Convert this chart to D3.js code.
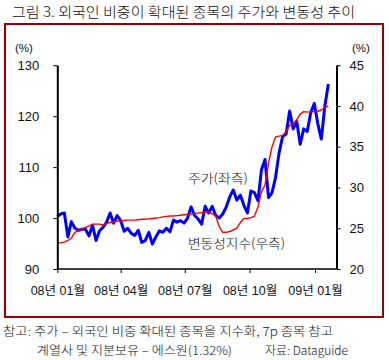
<!DOCTYPE html>
<html><head><meta charset="utf-8">
<script src="https://cdn.jsdelivr.net/npm/d3@7"></script>
<style>
html,body{margin:0;padding:0;background:#fff;}
svg{display:block;}
text{font-family:"Liberation Sans","Noto Sans CJK KR",sans-serif;fill:#111;}
.kr{font-family:"Noto Sans CJK KR","Liberation Sans",sans-serif;font-weight:300;}
</style></head>
<body>
<script>
// ---- data (sampled every 5 days from 2008-01-02) ----
const startDate = "2008-01-02";
const stepDays = 5;
const priceIndex = [100.3,100.8,101.0,96.3,99.3,98.0,97.6,97.8,97.8,96.5,
  98.6,95.6,97.5,98.2,99.2,101.0,99.0,100.5,99.5,97.4,
  98.0,97.0,96.6,97.6,95.2,95.6,97.2,94.9,96.3,97.5,
  97.2,98.0,97.3,99.6,99.2,99.5,99.0,100.0,102.2,100.5,
  99.8,98.8,102.3,101.0,102.3,100.5,100.0,100.8,102.2,104.2,
  105.5,103.5,104.5,102.5,101.0,105.3,105.0,103.4,109.5,111.5,
  104.0,105.0,108.0,112.8,116.0,116.5,121.0,117.5,119.0,114.5,
  117.5,117.0,120.7,122.5,118.5,115.5,122.0,126.3];
const volIndex = [23.2,23.2,23.3,23.5,23.8,24.5,24.7,24.9,25.1,25.3,
  25.5,25.5,25.5,25.4,25.6,25.7,25.8,25.85,25.9,25.95,
  26.0,26.0,26.0,26.05,26.1,26.1,26.15,26.2,26.25,26.3,
  26.4,26.45,26.5,26.5,26.55,26.6,26.65,26.7,26.75,26.8,
  26.85,26.9,26.95,27.0,26.8,26.5,25.2,24.5,24.5,24.6,
  24.8,25.0,25.7,26.2,26.2,26.3,26.5,27.6,29.5,30.3,
  33.0,35.0,36.2,36.3,36.4,36.8,37.6,37.8,38.3,39.0,
  39.3,39.25,39.3,39.3,39.35,39.5,39.8,40.0];
const xTickDates = ["2008-01-02","2008-04-01","2008-07-01","2008-10-01","2009-01-02"];
const xTickLabels = ["08년 01월","08년 04월","08년 07월","08년 10월","09년 01월"];
const leftTicks = [90,100,110,120,130];
const rightTicks = [20,25,30,35,40,45];
const titleText = "그림 3. 외국인 비중이 확대된 종목의 주가와 변동성 추이";
const seriesLabels = ["주가(좌측)","변동성지수(우측)"];
const noteLines = ["참고: 주가 – 외국인 비중 확대된 종목을 지수화, 7p 종목 참고",
  "계열사 및 지분보유 – 에스원(1.32%)"];
const sourceText = "자료: Dataguide";

const W = 389, H = 360;
const parse = d3.utcParse("%Y-%m-%d");
const t0 = parse(startDate);
const dates = priceIndex.map((_, i) => d3.utcDay.offset(t0, i * stepDays));

const svg = d3.select("body").append("svg").attr("width", W).attr("height", H);

// title
svg.append("text").attr("class","kr").attr("x", 12).attr("y", 16.5)
  .attr("font-size", 14).attr("textLength", 343).attr("lengthAdjust","spacingAndGlyphs")
  .text(titleText);

// frame
svg.append("rect").attr("x", 5).attr("y", 24).attr("width", 378).attr("height", 293)
  .attr("fill","none").attr("stroke","#990000").attr("stroke-width", 2);

const plot = {l: 57.3, r: 336.5, t: 65.2, b: 269};
const x = d3.scaleUtc().domain([parse(xTickDates[0]), parse(xTickDates[4])]).range([plot.l, 315]);
const yL = d3.scaleLinear().domain([90,130]).range([plot.b, plot.t]);
const yR = d3.scaleLinear().domain([20,45]).range([plot.b, plot.t]);

// series
const lineL = d3.line().x((d,i) => x(dates[i])).y(d => yL(d));
const lineR = d3.line().x((d,i) => x(dates[i])).y(d => yR(d));
svg.append("path").datum(priceIndex).attr("d", lineL).attr("fill","none")
  .attr("stroke","#0000ff").attr("stroke-width", 3).attr("stroke-linejoin","round");
svg.append("path").datum(volIndex).attr("d", lineR).attr("fill","none")
  .attr("stroke","#ff0000").attr("stroke-width", 1.4).attr("stroke-linejoin","round");

// axes
const gL = svg.append("g").attr("transform", `translate(${plot.l},0)`)
  .call(d3.axisLeft(yL).tickValues(leftTicks).tickSize(4).tickSizeOuter(0).tickPadding(14));
const gR = svg.append("g").attr("transform", `translate(${plot.r},0)`)
  .call(d3.axisRight(yR).tickValues(rightTicks).tickSize(4).tickSizeOuter(0).tickPadding(9));
const gB = svg.append("g").attr("transform", `translate(0,${plot.b})`)
  .call(d3.axisBottom(x).tickValues(xTickDates.map(parse)).tickFormat((d,i) => xTickLabels[i])
    .tickSize(4).tickSizeOuter(0).tickPadding(13));
gB.select(".domain").attr("d", `M${plot.l},0H${plot.r}`);
[gL, gR].forEach(g => g.select(".domain").attr("stroke-width", 2));
gB.select(".domain").attr("stroke-width", 1.6);
[gL, gR, gB].forEach(g => {
  g.selectAll("text").attr("font-size", 13).attr("fill","#111")
    .style("font-family", '"Liberation Sans","Noto Sans CJK KR",sans-serif');
});
gB.selectAll("text").attr("font-size", 12.5);

// unit labels
svg.append("text").attr("x", 15).attr("y", 52).attr("font-size", 11.5).text("(%)");
svg.append("text").attr("x", 352).attr("y", 52).attr("font-size", 11.5).text("(%)");

// series labels
svg.append("text").attr("class","kr").attr("x", 188).attr("y", 182.5).attr("font-size", 13)
  .attr("textLength", 60).attr("lengthAdjust","spacingAndGlyphs").text(seriesLabels[0]);
svg.append("text").attr("class","kr").attr("x", 188).attr("y", 247.5).attr("font-size", 13)
  .attr("textLength", 97).attr("lengthAdjust","spacingAndGlyphs").text(seriesLabels[1]);

// notes
svg.append("text").attr("class","kr").attr("x", 3).attr("y", 336).attr("font-size", 12)
  .attr("fill","#333").attr("textLength", 330).attr("lengthAdjust","spacingAndGlyphs").text(noteLines[0]);
svg.append("text").attr("class","kr").attr("x", 37).attr("y", 355).attr("font-size", 12)
  .attr("fill","#333").attr("textLength", 195).attr("lengthAdjust","spacingAndGlyphs").text(noteLines[1]);
svg.append("text").attr("class","kr").attr("x", 265).attr("y", 355).attr("font-size", 12)
  .attr("fill","#333").attr("textLength", 83).attr("lengthAdjust","spacingAndGlyphs").text(sourceText);
</script>
</body></html>
